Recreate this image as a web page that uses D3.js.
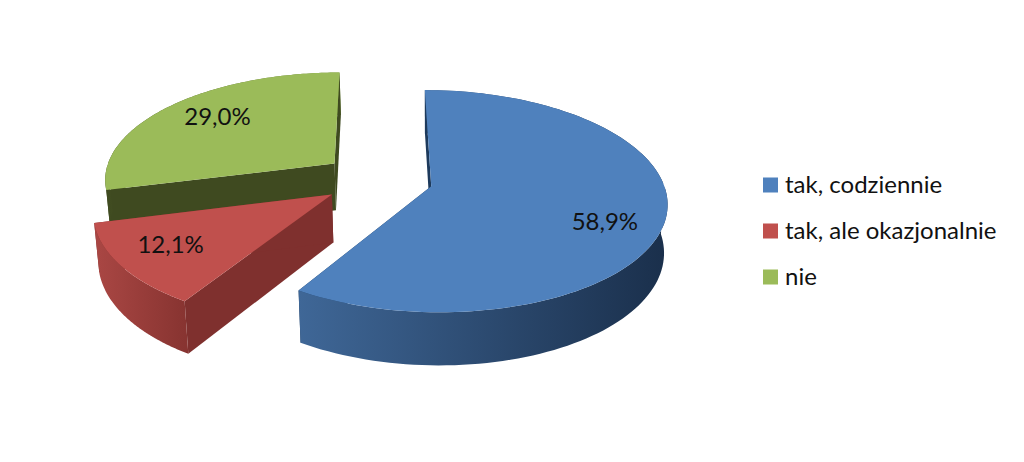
<!DOCTYPE html>
<html>
<head>
<meta charset="utf-8">
<script src="https://cdn.jsdelivr.net/npm/d3@7"></script>
<style>
  html, body { margin: 0; padding: 0; background: #fff; }
  text { font-family: Lato, "Open Sans", sans-serif; fill: #111; }
</style>
</head>
<body>
<script>
// data
const categories = ["tak, codziennie", "tak, ale okazjonalnie", "nie"];
const values = [58.9, 12.1, 29.0];
const labels = ["58,9%", "12,1%", "29,0%"];
const topColors = ["#4f81bd", "#c0504d", "#9bbb59"];
const faceColors = ["#1d3a5c", "#7f302e", "#3f4a20"];
const rimFrom = ["#3f6797", "#aa4744", "#3f4a20"];
const rimTo = ["#1a2f4b", "#883431", "#76923c"];

const w = 1024, h = 462;

// projection of the tilted pie
const cx = 377.5, cy = 179;
const R = 231, B = 107.1;
const persp = 0.134;
const depth = 48;
const shrink = 0.985;
const vanishX = 430;
const explode = 0.24;

function project(u, v, lower) {
  const s = 1 / (1 - persp * v);
  const x = cx + R * u * s;
  if (!lower) return [x, cy + B * v * s];
  return [vanishX + (x - vanishX) * shrink, cy + (B * v + depth) * s * shrink];
}

const svg = d3.select("body").append("svg")
  .attr("width", w)
  .attr("height", h)
  .style("display", "block")
  .style("background-color", "white");

const defs = svg.append("defs");
const line = d3.line();
const pie = d3.pie().sort(null).value(d => d);
const slices = pie(values);

// paint back to front: green, red, blue
const order = [2, 1, 0];

order.forEach(i => {
  const d = slices[i];
  const mid = (d.startAngle + d.endAngle) / 2;
  const ou = explode * Math.sin(mid), ov = -explode * Math.cos(mid);
  const at = (a, r, lower) => project(ou + r * Math.sin(a), ov - r * Math.cos(a), lower);

  const steps = d3.range(0, 121).map(k => d.startAngle + (d.endAngle - d.startAngle) * k / 120);
  const arcTop = steps.map(a => at(a, 1, false));

  const g = svg.append("g").attr("class", "slice");

  const xs = arcTop.map(p => p[0]);
  const grad = defs.append("linearGradient")
    .attr("id", "rim" + i)
    .attr("gradientUnits", "userSpaceOnUse")
    .attr("x1", d3.min(xs)).attr("x2", d3.max(xs))
    .attr("y1", 0).attr("y2", 0);
  grad.append("stop").attr("offset", 0).attr("stop-color", rimFrom[i]);
  grad.append("stop").attr("offset", 1).attr("stop-color", rimTo[i]);

  const rim = angles => {
    if (angles.length < 2) return;
    g.append("path")
      .attr("d", line(angles.map(a => at(a, 1, false))
        .concat(angles.slice().reverse().map(a => at(a, 1, true)))) + "Z")
      .attr("fill", `url(#rim${i})`);
  };

  // rim facing away goes first, the cut faces, then the rim facing us
  rim(steps.filter(a => a <= Math.PI / 2 || a >= Math.PI * 1.5));
  [d.startAngle, d.endAngle].forEach(a => {
    g.append("path")
      .attr("d", line([at(a, 0, false), at(a, 1, false), at(a, 1, true), at(a, 0, true)]) + "Z")
      .attr("fill", faceColors[i]);
  });
  rim(steps.filter(a => a >= Math.PI / 2 && a <= Math.PI * 1.5));

  // top surface
  g.append("path")
    .attr("d", line([at(d.startAngle, 0, false)].concat(arcTop)) + "Z")
    .attr("fill", topColors[i]);
});

// value labels, placed along each slice's bisector
const labelReach = 0.97;
const labelNudge = [[4, 12], [-11, -2], [4, -5]];
slices.forEach((d, i) => {
  const mid = (d.startAngle + d.endAngle) / 2;
  const p = project(labelReach * Math.sin(mid), -labelReach * Math.cos(mid), false);
  svg.append("text")
    .attr("x", p[0] + labelNudge[i][0])
    .attr("y", p[1] + labelNudge[i][1])
    .attr("text-anchor", "middle")
    .attr("dominant-baseline", "central")
    .attr("font-size", 24)
    .text(labels[i]);
});

// legend
const legendY = d3.scalePoint().domain(categories).range([185, 277]);
const legend = svg.selectAll(".legend")
  .data(categories)
  .enter()
  .append("g")
  .attr("class", "legend")
  .attr("transform", d => `translate(763, ${legendY(d)})`);

legend.append("rect")
  .attr("y", -7.5)
  .attr("width", 15)
  .attr("height", 15)
  .attr("fill", (d, i) => topColors[i]);

legend.append("text")
  .attr("x", 22)
  .attr("y", -1.5)
  .attr("dominant-baseline", "central")
  .attr("font-size", 24)
  .text(d => d);
</script>
</body>
</html>
